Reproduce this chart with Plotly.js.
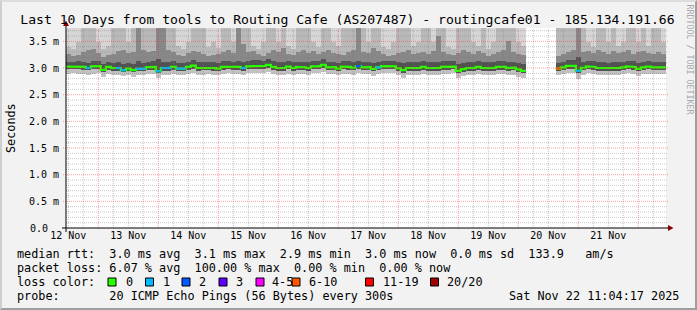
<!DOCTYPE html>
<html><head><meta charset="utf-8">
<script src="https://cdn.plot.ly/plotly-3.0.1.min.js"></script>
<style>
html,body{margin:0;padding:0;background:#f2f2f2;}
#wrap{position:relative;width:697px;height:310px;overflow:hidden;}
#chart{position:absolute;left:0;top:0;width:697px;height:310px;}
#frame{position:absolute;left:0;top:0;width:697px;height:310px;box-sizing:border-box;border-style:solid;border-width:2px;border-color:#dcdcdc #9e9e9e #9e9e9e #cfcfcf;pointer-events:none;}
</style></head><body>
<div id="wrap"><div id="chart"></div><div id="frame"></div></div>
<script>
// ---------- data ----------
const rangeStart = '2025-11-12 11:04:17';
const rangeEnd   = '2025-11-22 11:04:17';
const firstBinUTC = Date.UTC(2025, 10, 12, 12, 0, 0);   // 2h bins
const binHours = 2;

// median rtt (ms) per 2h bin
const medianRtt = [3.025,3.025,3.025,3.02,3.0,3.03,3.035,2.965,3.02,3.0,
 3.0,2.96,2.99,2.96,2.985,2.985,3.015,3.02,2.94,3.0,
 3.0,3.02,2.99,2.99,3.02,3.045,3.0,3.0,3.005,3.0,
 2.99,3.02,3.025,3.02,3.02,3.0,3.03,3.04,3.04,3.04,
 3.06,3.02,3.0,3.0,3.025,3.0,3.02,3.015,3.0,3.03,
 3.03,3.06,3.01,3.015,2.99,3.025,3.02,3.005,3.035,3.01,
 3.015,2.985,3.01,3.035,3.03,3.03,2.995,2.96,3.0,3.0,
 3.0,3.02,3.0,3.0,3.0,3.02,3.02,3.025,2.945,2.98,
 3.0,3.0,3.02,3.0,3.0,3.0,3.02,3.02,3.0,3.005,
 2.975,2.945,null,null,null,null,null,null,2.99,3.01,
 3.04,3.04,2.945,3.005,3.03,3.02,3.0,3.0,2.99,3.0,
 3.0,3.01,3.03,3.02,2.985,3.01,3.025,3.01,3.01,3.01];

// lost pings (of 20) per bin
const lostPings = [0,0,0,0,1,0,0,0,0,0,
 1,1,0,0,1,1,0,0,1,1,
 1,0,1,1,0,0,0,0,0,0,
 0,0,0,0,0,1,0,0,0,0,
 0,0,0,0,0,0,0,0,0,0,
 0,0,0,0,0,0,0,0,2,0,
 0,0,1,0,0,0,0,0,0,0,
 0,0,0,0,0,0,0,0,0,0,
 0,0,0,0,0,0,0,0,0,0,
 0,0,null,null,null,null,null,null,7,0,
 0,0,1,0,0,0,0,0,0,0,
 0,0,0,0,0,0,0,0,0,0];

// smoke: ping distribution levels (ms)
const pingMin = [2.89,2.9,2.88,2.89,2.87,2.89,2.9,2.84,2.88,2.87,
 2.87,2.85,2.86,2.84,2.86,2.86,2.88,2.89,2.82,2.87,
 2.87,2.89,2.86,2.87,2.89,2.91,2.87,2.87,2.88,2.87,
 2.86,2.89,2.9,2.89,2.88,2.87,2.9,2.91,2.9,2.91,
 2.92,2.89,2.87,2.87,2.89,2.87,2.89,2.88,2.87,2.9,
 2.9,2.92,2.88,2.88,2.86,2.89,2.89,2.87,2.9,2.88,
 2.88,2.85,2.88,2.9,2.9,2.9,2.86,2.82,2.87,2.87,
 2.87,2.89,2.87,2.87,2.87,2.89,2.89,2.9,2.82,2.85,
 2.87,2.87,2.89,2.87,2.87,2.87,2.89,2.89,2.87,2.87,
 2.84,2.82,null,null,null,null,null,null,2.86,2.88,
 2.91,2.91,2.8,2.87,2.9,2.89,2.87,2.87,2.86,2.87,
 2.87,2.88,2.9,2.89,2.85,2.88,2.89,2.88,2.88,2.88];
const pingLow = [2.975,2.98,2.975,2.97,2.955,2.975,2.98,2.93,2.965,2.95,
 2.95,2.92,2.94,2.92,2.935,2.94,2.965,2.97,2.9,2.95,
 2.95,2.97,2.945,2.945,2.97,2.99,2.95,2.955,2.955,2.95,
 2.945,2.97,2.975,2.97,2.965,2.95,2.98,2.99,2.985,2.99,
 3.0,2.97,2.95,2.95,2.975,2.95,2.97,2.965,2.95,2.98,
 2.98,3.0,2.96,2.965,2.94,2.975,2.97,2.955,2.985,2.96,
 2.965,2.935,2.96,2.985,2.98,2.98,2.945,2.91,2.95,2.95,
 2.95,2.97,2.95,2.95,2.95,2.97,2.97,2.975,2.9,2.93,
 2.95,2.95,2.97,2.95,2.95,2.95,2.97,2.97,2.95,2.955,
 2.925,2.9,null,null,null,null,null,null,2.94,2.96,
 2.99,2.99,2.9,2.955,2.98,2.97,2.95,2.95,2.94,2.95,
 2.95,2.96,2.98,2.97,2.935,2.96,2.975,2.96,2.96,2.96];
const pingHi1 = [3.12,3.11,3.13,3.12,3.1,3.14,3.13,3.08,3.12,3.1,
 3.11,3.08,3.1,3.08,3.14,3.1,3.12,3.13,3.16,3.11,
 3.11,3.13,3.1,3.1,3.12,3.15,3.11,3.11,3.12,3.11,
 3.1,3.13,3.13,3.12,3.13,3.11,3.14,3.15,3.15,3.14,
 3.16,3.13,3.11,3.11,3.13,3.11,3.12,3.12,3.11,3.14,
 3.14,3.16,3.12,3.12,3.1,3.13,3.13,3.11,3.14,3.12,
 3.12,3.1,3.12,3.14,3.14,3.14,3.11,3.09,3.11,3.11,
 3.11,3.13,3.11,3.11,3.12,3.13,3.13,3.13,3.08,3.1,
 3.11,3.11,3.13,3.11,3.11,3.11,3.13,3.13,3.12,3.12,
 3.09,3.07,null,null,null,null,null,null,3.1,3.12,
 3.15,3.15,3.2,3.12,3.14,3.13,3.11,3.11,3.1,3.11,
 3.11,3.12,3.14,3.13,3.1,3.12,3.13,3.12,3.12,3.12];
const pingHi2 = [3.26,3.22,3.24,3.3,3.34,3.36,3.28,3.2,3.24,3.27,
 3.32,3.34,3.28,3.3,3.8,3.34,3.3,3.32,3.9,3.85,
 3.34,3.3,3.25,3.22,3.28,3.32,3.3,3.26,3.22,3.24,
 3.26,3.3,3.34,3.28,3.8,3.45,3.3,3.32,3.26,3.22,
 3.28,3.34,3.3,3.38,3.26,3.24,3.3,3.34,3.28,3.32,
 3.26,3.3,3.34,3.28,3.26,3.24,3.3,3.34,3.8,3.3,
 3.28,3.38,3.32,3.26,3.22,3.24,3.28,3.3,3.34,3.26,
 3.28,3.3,3.26,3.32,3.6,3.3,3.26,3.24,3.28,3.34,
 3.3,3.26,3.32,3.28,3.22,3.26,3.3,3.34,3.5,3.3,
 3.26,3.24,null,null,null,null,null,null,3.22,3.26,
 3.3,3.34,3.9,3.3,3.32,3.28,3.34,3.3,3.26,3.32,
 3.28,3.3,3.34,3.26,3.3,3.32,3.28,3.26,3.3,3.26];
const pingHi3 = [3.4,3.36,3.48,3.85,3.9,4.0,3.48,3.36,3.42,3.8,
 3.9,3.85,3.48,3.9,4.0,3.85,3.8,3.9,4.1,4.0,
 3.85,3.8,3.42,3.36,3.48,3.85,3.9,3.8,3.4,3.48,
 3.38,3.85,3.9,3.48,4.0,3.9,3.8,3.42,3.36,3.48,
 3.85,3.9,3.48,3.85,3.42,3.36,3.8,3.9,3.85,3.48,
 3.4,3.8,3.9,3.48,3.42,3.85,3.9,3.8,4.0,3.85,
 3.48,3.9,3.8,3.4,3.36,3.48,3.85,3.9,3.8,3.42,
 3.48,3.85,3.9,3.48,3.95,3.85,3.4,3.36,3.8,3.9,
 3.85,3.48,3.42,3.8,3.36,3.48,3.85,3.9,3.95,3.8,
 3.48,3.42,null,null,null,null,null,null,3.85,3.9,
 3.8,3.9,4.0,3.85,3.48,3.4,3.8,3.9,3.48,3.85,
 3.42,3.48,3.9,3.85,3.48,3.8,3.42,3.85,3.9,3.48];
const pingMax = [4.6,4.9,4.4,5.1,5.6,5.2,4.7,4.5,4.8,5.0,
 5.3,5.1,4.7,5.0,6.2,5.4,4.9,5.2,6.8,6.1,
 5.0,4.8,4.5,4.4,4.7,5.1,5.2,4.9,4.5,4.6,
 4.4,5.0,5.3,4.7,5.9,5.4,4.9,4.6,4.5,4.7,
 5.0,5.3,4.7,5.1,4.5,4.4,4.9,5.2,5.0,4.7,
 4.6,4.9,5.2,4.7,4.6,5.0,5.2,4.9,5.8,5.0,
 4.7,5.3,4.9,4.6,4.4,4.7,5.0,5.2,4.9,4.6,
 4.7,5.0,5.2,4.7,5.6,5.0,4.6,4.5,4.9,5.2,
 5.0,4.7,4.6,4.9,4.4,4.7,5.0,5.2,5.4,4.9,
 4.7,4.5,null,null,null,null,null,null,4.2,4.4,
 4.9,5.2,6.5,5.0,4.7,4.6,4.9,5.2,4.7,5.0,
 4.6,4.7,5.2,5.0,4.7,4.9,4.6,5.0,5.2,4.7];

const dayTickLabels = ['12 Nov','13 Nov','14 Nov','15 Nov','16 Nov','17 Nov','18 Nov','19 Nov','20 Nov','21 Nov'];
const yTickVals = [0.5,1.0,1.5,2.0,2.5,3.0,3.5];
const yTickText = ['0.5 m','1.0 m','1.5 m','2.0 m','2.5 m','3.0 m','3.5 m'];
const yZeroLabel = '0.0';

const lossLabels = ['0','1','2','3','4-5','6-10','11-19','20/20'];
const lossMaxCount = [0,1,2,3,5,10,19,20];
const lossColors = ['#26ff00','#00b8ff','#0059ff','#5e00ff','#ff00ff','#ff5500','#ff0000','#a10000'];

const titleText = 'Last 10 Days from tools to Routing Cafe (AS207487) - routingcafe01 - 185.134.191.66';
const legendLines = [
 'median rtt:  3.0 ms avg  3.1 ms max  2.9 ms min  3.0 ms now  0.0 ms sd  133.9   am/s',
 'packet loss: 6.07 % avg  100.00 % max  0.00 % min  0.00 % now',
 'loss color:',
 'probe:       20 ICMP Echo Pings (56 Bytes) every 300s'
];
const dateText = 'Sat Nov 22 11:04:17 2025';

// ---------- build ----------
const MONO = '"DejaVu Sans Mono", monospace';
const HOUR = 3600e3;
const fmt = ms => new Date(ms).toISOString().slice(0,19).replace('T',' ');
const binTimesMs = medianRtt.map((_,i) => firstBinUTC + i*binHours*HOUR);
const binTimes = binTimesMs.map(fmt);
const nb = s => s.replace(/ /g,'\u00a0');

// pixel helpers for decoration placement (plot area 66..666 x 28..228)
const pX = x => (x-66)/600;
const pY = y => (228-y)/200;

const traces = [];
const layers = [
 [pingMin, pingLow, '#c2c2c2'],
 [pingLow, pingHi1, '#525252'],
 [pingHi1, pingHi2, '#888888'],
 [pingHi2, pingHi3, '#b9b9b9'],
 [pingHi3, pingMax, '#d6d6d6']
];
layers.forEach(([lo,hi,col]) => {
  traces.push({type:'bar', x:binTimes, base:lo,
    y:hi.map((v,i)=> (v==null||lo[i]==null)?null:v-lo[i]),
    width:binHours*HOUR, marker:{color:col, line:{width:0}},
    hoverinfo:'skip', showlegend:false});
});

function lossClass(n){ for(let k=0;k<lossMaxCount.length;k++){ if(n<=lossMaxCount[k]) return k; } return 7; }

// median line (green) as stepped segments
const mx=[], my=[];
medianRtt.forEach((v,i)=>{
  if(v==null){ mx.push(null); my.push(null); return; }
  mx.push(fmt(binTimesMs[i]-HOUR), fmt(binTimesMs[i]+HOUR)); my.push(v,v);
});
traces.push({type:'scatter', mode:'lines', x:mx, y:my, line:{color:lossColors[0], width:2.2}, connectgaps:false, hoverinfo:'skip', showlegend:false});
for(let c=1;c<lossColors.length;c++){
  const sx=[], sy=[];
  medianRtt.forEach((v,i)=>{
    if(v==null||lostPings[i]==null) return;
    if(lossClass(lostPings[i])===c){
      sx.push(fmt(binTimesMs[i]-HOUR), fmt(binTimesMs[i]+HOUR), null); sy.push(v,v,null);
    }
  });
  if(sx.length) traces.push({type:'scatter', mode:'lines', x:sx, y:sy, line:{color:lossColors[c], width:2.2}, hoverinfo:'skip', showlegend:false});
}

// grid shapes (drawn above the smoke like rrdtool)
const shapes=[];
const startMs = Date.UTC(2025,10,12,11,4,17), endMs = Date.UTC(2025,10,22,11,4,17);
for(let t=Date.UTC(2025,10,12,0,0,0); t<=endMs; t+=6*HOUR){
  if(t<startMs) continue;
  const major = new Date(t).getUTCHours()===0;
  shapes.push({type:'line', layer:'above', xref:'x', yref:'paper', x0:fmt(t), x1:fmt(t), y0:0, y1:1,
    line:{color: major?'rgba(255,40,40,0.45)':'rgba(120,120,120,0.4)', width:1, dash:'1px,1px'}});
}
for(let k=1;k<=37;k++){
  const v=k/10, major = (k%5===0);
  shapes.push({type:'line', layer:'above', xref:'paper', yref:'y', x0: major?pX(63):0, x1:pX(668), y0:v, y1:v,
    line:{color: major?'rgba(255,40,40,0.45)':'rgba(120,120,120,0.4)', width:1, dash:'1px,1px'}});
}
// axes + arrows
shapes.push({type:'line', layer:'above', xref:'paper', yref:'paper', x0:pX(66), x1:pX(66), y0:pY(232), y1:pY(25), line:{color:'#000', width:1}});
shapes.push({type:'line', layer:'above', xref:'paper', yref:'paper', x0:pX(62), x1:pX(669), y0:pY(228), y1:pY(228), line:{color:'#000', width:1}});
shapes.push({type:'path', layer:'above', xref:'paper', yref:'paper',
  path:`M ${pX(63)},${pY(26)} L ${pX(66)},${pY(20.5)} L ${pX(69)},${pY(26)} Z`, fillcolor:'#8b0000', line:{width:0}});
shapes.push({type:'path', layer:'above', xref:'paper', yref:'paper',
  path:`M ${pX(668)},${pY(225)} L ${pX(673.5)},${pY(228)} L ${pX(668)},${pY(231)} Z`, fillcolor:'#8b0000', line:{width:0}});

// legend
const annotations=[];
const legendY=[253.5,268,282,296];
legendLines.forEach((s,i)=>{
  annotations.push({xref:'paper', yref:'paper', x:pX(15), y:pY(legendY[i]), xanchor:'left', yanchor:'middle',
    text:nb(s), showarrow:false, font:{family:MONO, size:11.8, color:'#000'}});
});
annotations.push({xref:'paper', yref:'paper', x:pX(681), y:pY(legendY[3]), xanchor:'right', yanchor:'middle',
  text:nb(dateText), showarrow:false, font:{family:MONO, size:11.8, color:'#000'}});
const boxX=[108,145.5,182,219,256,292,365.5,430.5];
const labX=[123.5,160.5,197,234,270,306.5,380.5,445];
lossLabels.forEach((lab,k)=>{
  shapes.push({type:'rect', xref:'paper', yref:'paper', x0:pX(boxX[k]), x1:pX(boxX[k]+8), y0:pY(286), y1:pY(278),
    fillcolor:lossColors[k], line:{color:'#000', width:1}});
  annotations.push({xref:'paper', yref:'paper', x:pX(labX[k]), y:pY(legendY[2]), xanchor:'left', yanchor:'middle',
    text:lab, showarrow:false, font:{family:MONO, size:11.8, color:'#000'}});
});
annotations.push({xref:'paper', yref:'paper', x:pX(11), y:pY(128), textangle:-90, xanchor:'center', yanchor:'middle',
  text:'Seconds', showarrow:false, font:{family:MONO, size:11.8, color:'#000'}});
annotations.push({xref:'paper', yref:'paper', x:pX(689.5), y:pY(59), textangle:90, xanchor:'center', yanchor:'middle',
  text:nb('RRDTOOL / TOBI OETIKER'), showarrow:false, font:{family:MONO, size:8.3, color:'#a9a9a9'}});
// zero label of the y axis (rrdtool pads it where the unit would be)
annotations.push({xref:'paper', yref:'y', x:pX(49), y:0, xanchor:'right', yanchor:'middle',
  text:yZeroLabel, showarrow:false, borderpad:0, font:{family:MONO, size:10, color:'#000'}});

const noonTicks = dayTickLabels.map((_,d)=>fmt(Date.UTC(2025,10,12+d,12,0,0)));

const layout = {
  width:697, height:310,
  margin:{l:66, r:31, t:28, b:82, pad:0},
  paper_bgcolor:'#f2f2f2', plot_bgcolor:'#ffffff',
  barmode:'overlay', bargap:0, showlegend:false,
  title:{text:nb(titleText), font:{family:MONO, size:13.1, color:'#000'},
    xref:'container', x:0.4985, xanchor:'center', yref:'container', y:1-19/310, yanchor:'middle'},
  xaxis:{type:'date', range:[rangeStart, rangeEnd], tickmode:'array', tickvals:noonTicks, ticktext:dayTickLabels,
    showgrid:false, zeroline:false, showline:false, ticks:'', fixedrange:true,
    tickfont:{family:MONO, size:10, color:'#000'}},
  yaxis:{range:[0,3.75], tickmode:'array', tickvals:yTickVals, ticktext:yTickText,
    showgrid:false, zeroline:false, showline:false, ticks:'', fixedrange:true,
    tickfont:{family:MONO, size:10, color:'#000'}, ticklabelstandoff:6},
  shapes, annotations
};
Plotly.newPlot('chart', traces, layout, {staticPlot:true, displayModeBar:false});
</script></body></html>
